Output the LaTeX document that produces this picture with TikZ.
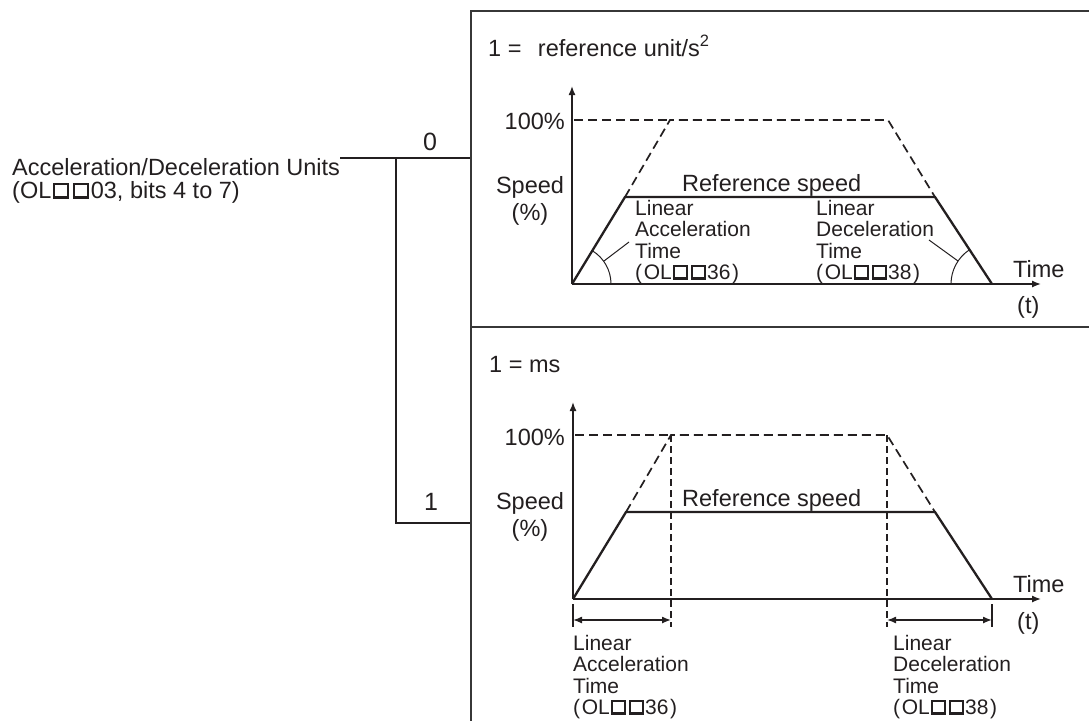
\documentclass[tikz,border=0pt]{standalone}
\usepackage{fontspec}
\setmainfont{Liberation Sans}
\usetikzlibrary{arrows.meta}
\definecolor{ink}{RGB}{35,31,32}
\definecolor{frame}{RGB}{55,55,55}
\newcommand\sqbox{\kern.07em\rlap{\rule{.7em}{.1em}}\rlap{\rule{.1em}{.68em}}\rlap{\kern.6em\rule{.1em}{.68em}}\rlap{\raisebox{.58em}{\rule{.7em}{.1em}}}\kern.7em\kern.07em}
\newcommand\llines[1]{\begin{tabular}[t]{@{}l@{}}#1\end{tabular}}
\newcommand\clines[1]{\begin{tabular}[t]{@{}c@{}}#1\end{tabular}}
\tikzset{
  main/.style={inner sep=0pt, text=ink, font=\fontsize{23.5}{21}\selectfont},
  small/.style={inner sep=0pt, text=ink, font=\fontsize{21}{21}\selectfont},
  spd/.style={inner sep=0pt, text=ink, font=\fontsize{23.5}{27}\selectfont},
  boxline/.style={draw=frame, line width=1.8pt},
  conn/.style={draw=ink, line width=1.8pt},
  axis/.style={draw=ink, line width=1.4pt, -{Latex[length=9pt,width=7pt]}},
  curve/.style={draw=ink, line width=2.3pt, line join=miter},
  dsh/.style={draw=ink, line width=1.7pt, dash pattern=on 9pt off 5pt},
  vdsh/.style={draw=ink, line width=1.4pt, dash pattern=on 7pt off 4pt},
  thin/.style={draw=ink, line width=1pt},
  dim/.style={draw=ink, line width=1.4pt, {Latex[length=9pt,width=7pt]}-{Latex[length=9pt,width=7pt]}},
}
\begin{document}
\begin{tikzpicture}[x=1pt,y=-1pt]
\useasboundingbox (0,0) rectangle (1089,721);

% ---- selector ----
\node[main, anchor=north west] (unitlbl) at (12,158)
  {\llines{Acceleration/Deceleration Units\\(OL\sqbox\sqbox03, bits 4 to 7)}};
\coordinate (b0) at (471,158);
\coordinate (j0) at (396,158);
\coordinate (j1) at (396,523);
\coordinate (b1) at (471,523);
\draw[conn] (unitlbl.north east) -- (b0);
\draw[conn] (j0) -- (j1) -- (b1);
\node[main, anchor=base, font=\fontsize{25}{25}\selectfont] (zero) at (430,150) {0};
\node[main, anchor=base, font=\fontsize{25}{25}\selectfont] (one) at (431,510) {1};

% ---- frame ----
\coordinate (tl) at (471,11);
\coordinate (tr) at (1089,11);
\coordinate (bl) at (471,721);
\coordinate (ml) at (471,327);
\coordinate (mr) at (1089,327);
\draw[boxline] (tr) -- (tl) -- (bl);
\draw[boxline] (ml) -- (mr);

% ---- top panel ----
\node[main, anchor=base west] (unitA) at (488,56) {1 =\hspace{.7em}reference unit/s\textsuperscript{2}};
\coordinate (oA) at (572,284);
\coordinate (yA) at (572,86);
\coordinate (xA) at (1041,284);
\coordinate (pA) at (574,120);
\coordinate (cA1) at (670,120);
\coordinate (cA2) at (888,120);
\coordinate (kA1) at (625,197);
\coordinate (kA2) at (935,197);
\coordinate (eA) at (992,284);
\draw[axis] (oA) -- (yA);
\draw[axis] (oA) -- (xA);
\draw[dsh] (pA) -- (cA1);
\draw[dsh] (kA1) -- (cA1) -- (cA2) -- (kA2);
\draw[curve] (oA) -- (kA1) -- (kA2) -- (eA);
\node[main, anchor=base east] (hA) at (565,129) {100\%};
\node[spd, anchor=base] (sA) at (530,193) {\clines{Speed\\(\%)}};
\node[main, anchor=base west] (rA) at (682,191) {Reference speed};
\node[small, anchor=base west] (accA) at (635,215) {\llines{Linear\\Acceleration\\Time\\(\kern.08em OL\sqbox\sqbox36\kern.08em)}};
\node[small, anchor=base west] (decA) at (816,215) {\llines{Linear\\Deceleration\\Time\\(\kern.08em OL\sqbox\sqbox38\kern.08em)}};
\node[main, anchor=base west] (tA) at (1013,277) {Time};
\node[main, anchor=base west] (ttA) at (1017,313) {(t)};
\draw[thin] (611,284) arc[start angle=0, end angle=-58.6, radius=39];
\draw[thin] (951,284) arc[start angle=180, end angle=237.1, radius=41];
\coordinate (aA1) at (604,261);
\coordinate (aA2) at (629,242);
\coordinate (dA1) at (958,261);
\coordinate (dA2) at (929,240);
\draw[thin] (aA1) -- (aA2);
\draw[thin] (dA1) -- (dA2);

% ---- bottom panel ----
\node[main, anchor=base west] (unitB) at (489,372) {1 = ms};
\coordinate (oB) at (573,599);
\coordinate (yB) at (573,402);
\coordinate (xB) at (1041,599);
\coordinate (pB) at (575,435);
\coordinate (cB1) at (671,435);
\coordinate (cB2) at (887,435);
\coordinate (kB1) at (626,512);
\coordinate (kB2) at (935,512);
\coordinate (eB) at (992,599);
\coordinate (vB1) at (671,627);
\coordinate (vB2) at (887,627);
\draw[axis] (oB) -- (yB);
\draw[axis] (oB) -- (xB);
\draw[dsh] (pB) -- (cB1);
\draw[dsh] (kB1) -- (cB1) -- (cB2) -- (kB2);
\draw[vdsh] (cB1) -- (vB1);
\draw[vdsh] (cB2) -- (vB2);
\draw[curve] (oB) -- (kB1) -- (kB2) -- (eB);
\coordinate (tk1a) at (573,604);
\coordinate (tk1b) at (573,627);
\coordinate (tk2a) at (992,604);
\coordinate (tk2b) at (992,627);
\draw[thin, line width=1.3pt] (tk1a) -- (tk1b);
\draw[thin, line width=1.3pt] (tk2a) -- (tk2b);
\coordinate (dm1a) at (573,620);
\coordinate (dm1b) at (671,620);
\coordinate (dm2a) at (887,620);
\coordinate (dm2b) at (992,620);
\draw[dim] (dm1a) -- (dm1b);
\draw[dim] (dm2a) -- (dm2b);
\node[main, anchor=base east] (hB) at (565,445) {100\%};
\node[spd, anchor=base] (sB) at (530,509) {\clines{Speed\\(\%)}};
\node[main, anchor=base west] (rB) at (682,506) {Reference speed};
\node[small, anchor=base west] (accB) at (573,650) {\llines{Linear\\Acceleration\\Time\\(\kern.08em OL\sqbox\sqbox36\kern.08em)}};
\node[small, anchor=base west] (decB) at (893,650) {\llines{Linear\\Deceleration\\Time\\(\kern.08em OL\sqbox\sqbox38\kern.08em)}};
\node[main, anchor=base west] (tB) at (1013,592) {Time};
\node[main, anchor=base west] (ttB) at (1017,629) {(t)};
\end{tikzpicture}
\end{document}
